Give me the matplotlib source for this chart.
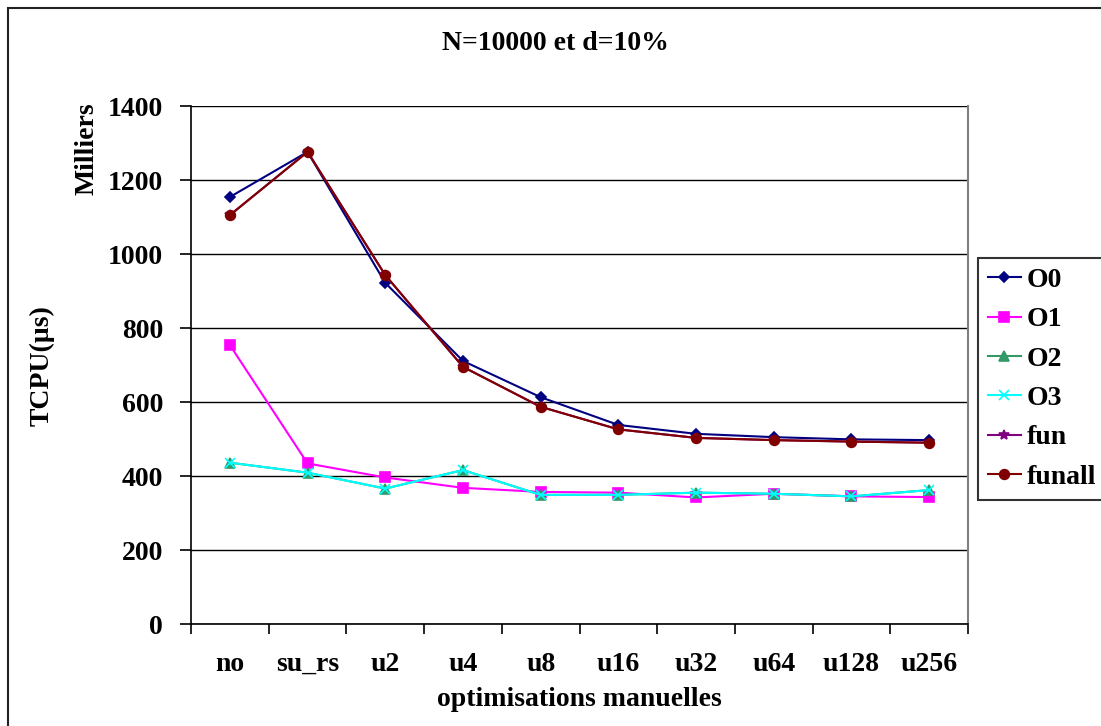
#!/usr/bin/env python3
import matplotlib
matplotlib.use("Agg")
import matplotlib.pyplot as plt
from matplotlib.patches import Rectangle

W, H = 1101, 726

CATEGORIES = ["no", "su_rs", "u2", "u4", "u8", "u16", "u32", "u64", "u128", "u256"]
O0 = [1154, 1276, 922, 711, 613, 538, 514, 505, 499, 497]
O1 = [754, 434, 396, 368, 357, 355, 342, 352, 345, 343]
O2 = [436, 409, 366, 416, 349, 349, 355, 352, 345, 362]
O3 = [436, 409, 366, 416, 349, 349, 355, 352, 345, 362]
FUN = [1105, 1276, 943, 695, 587, 526, 503, 497, 493, 490]
FUNALL = [1105, 1276, 943, 695, 587, 526, 503, 497, 493, 490]
YTICKS = [0, 200, 400, 600, 800, 1000, 1200, 1400]

SERIES = [
    ("O0", O0, "#000080", "D", 5),
    ("O1", O1, "#ff00ff", "s", 7),
    ("O2", O2, "#339966", "^", 7),
    ("O3", O3, "#00ffff", "x", 7),
    ("fun", FUN, "#800080", "*", 7),
    ("funall", FUNALL, "#800000", "o", 7),
]

FS = 20

plt.rcParams["font.family"] = ["Liberation Serif", "DejaVu Serif"]
plt.rcParams["font.weight"] = "bold"

fig = plt.figure(figsize=(W / 100, H / 100), dpi=100)
ax = fig.add_axes([191 / W, 1 - 624 / H, (968 - 191) / W, (624 - 106) / H])

x = list(range(len(CATEGORIES)))
for name, vals, color, marker, ms in SERIES:
    ax.plot(x, vals, color=color, marker=marker, markersize=ms, linewidth=1.5,
            label=name, markeredgewidth=1.2)

ax.set_xlim(-0.5, len(CATEGORIES) - 0.5)
ax.set_ylim(0, 1400)
ax.set_yticks(YTICKS)
ax.set_yticklabels([str(v) for v in YTICKS], fontsize=FS, fontweight="bold")
ax.set_xticks(x)
ax.set_xticklabels(CATEGORIES, fontsize=FS, fontweight="bold")
ax.tick_params(axis="x", which="major", length=0, pad=20)
ax.set_xticks([i - 0.5 for i in range(len(CATEGORIES) + 1)], minor=True)
ax.tick_params(axis="x", which="minor", length=7, width=1.2, direction="out")
ax.tick_params(axis="y", length=8, width=1.2, direction="out", pad=12)
ax.grid(axis="y", color="black", linewidth=1)
ax.set_axisbelow(True)
ax.spines["top"].set_visible(False)
ax.spines["right"].set_color("#808080")
ax.spines["right"].set_linewidth(1.5)
ax.spines["left"].set_linewidth(1.2)
ax.spines["bottom"].set_linewidth(1.2)

fig.text(555 / W, 1 - 43 / H, "N=10000 et d=10%", ha="center", va="center",
         fontsize=FS, fontweight="bold")
fig.text(42 / W, 1 - 366 / H, "TCPU(µs)", ha="center", va="center",
         rotation=90, fontsize=FS, fontweight="bold")
fig.text(87 / W, 1 - 149 / H, "Milliers", ha="center", va="center",
         rotation=90, fontsize=FS, fontweight="bold")
fig.text(579 / W, 1 - 700 / H, "optimisations manuelles", ha="center",
         va="center", fontsize=FS, fontweight="bold")

leg = fig.legend(loc="upper left", bbox_to_anchor=(978 / W, 1 - 258 / H),
                 fontsize=FS, frameon=True, fancybox=False, handlelength=1.2,
                 borderpad=0.35, labelspacing=0.5, handletextpad=0.2,
                 borderaxespad=0)
leg.get_frame().set_edgecolor("black")
leg.get_frame().set_linewidth(1.5)
for t in leg.get_texts():
    t.set_fontweight("bold")

fig.patches.append(Rectangle((8 / W, -0.05), 1.1, 1 - 8 / H + 0.05,
                             transform=fig.transFigure, fill=False,
                             edgecolor="#222222", linewidth=1.5))

fig.savefig("out.png", dpi=100)
